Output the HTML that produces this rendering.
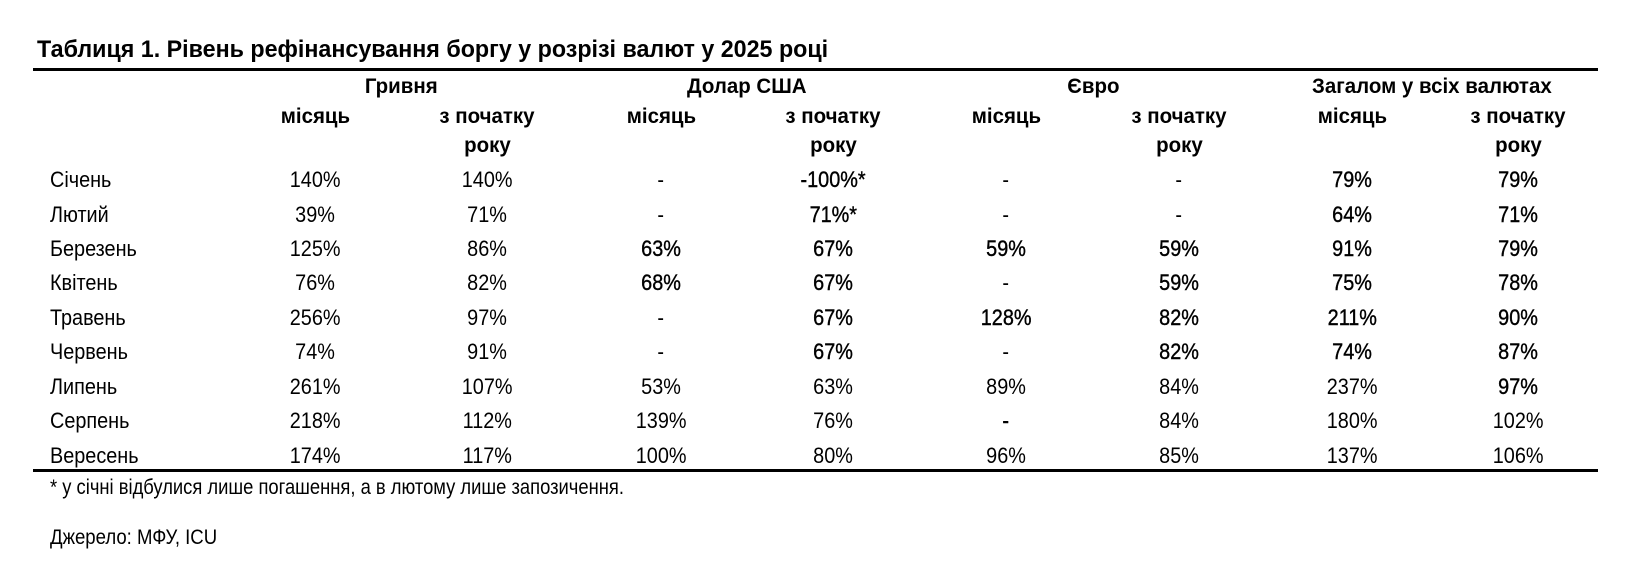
<!DOCTYPE html>
<html><head><meta charset="utf-8">
<style>
html,body{margin:0;padding:0;background:#fff;}
body{width:1643px;height:565px;position:relative;overflow:hidden;font-family:"Liberation Sans","DejaVu Sans",sans-serif;color:#000;--kt:1;--kh:0.97;--kd:0.9;--kf:0.86;--ks:0.85;}
.a{position:absolute;white-space:nowrap;line-height:1;}
.t{font-size:24px;font-weight:bold;transform:scaleX(var(--kt));transform-origin:0 0;}
.h{font-size:21.5px;font-weight:bold;}
.d{font-size:22px;}
.f{font-size:21px;transform:scaleX(var(--kf));transform-origin:0 0;}
.src{font-size:21px;transform:scaleX(var(--ks));transform-origin:0 0;}
.lab{transform:scaleX(var(--kd));transform-origin:0 0;}
.c{width:300px;margin-left:-150px;text-align:center;}
.c span{display:inline-block;line-height:1;transform-origin:50% 50%;}
.h.c span{transform:scaleX(var(--kh));}
.d.c span{transform:scaleX(var(--kd));}
.b span{-webkit-text-stroke:0.4px #000;}
.rule{position:absolute;left:33px;width:1565px;height:3px;background:#000;}
</style>
</head><body>

<div class="a t" id="rt" style="left:37px;top:38px;">Таблиця 1. Рівень рефінансування боргу у розрізі валют у 2025 році</div>
<div class="rule" style="top:68px;"></div>

<!-- group headers -->
<div class="a h c" style="left:401px;top:76px;"><span>Гривня</span></div>
<div class="a h c" style="left:747px;top:76px;"><span>Долар США</span></div>
<div class="a h c" style="left:1093px;top:76px;"><span>Євро</span></div>
<div class="a h c" style="left:1432px;top:76px;"><span id="rh">Загалом у всіх валютах</span></div>

<!-- sub headers -->
<div class="a h c" style="left:315px;top:106px;"><span>місяць</span></div>
<div class="a h c" style="left:487px;top:106px;"><span>з початку</span></div>
<div class="a h c" style="left:487px;top:135px;"><span>року</span></div>
<div class="a h c" style="left:661px;top:106px;"><span>місяць</span></div>
<div class="a h c" style="left:833px;top:106px;"><span>з початку</span></div>
<div class="a h c" style="left:833px;top:135px;"><span>року</span></div>
<div class="a h c" style="left:1006px;top:106px;"><span>місяць</span></div>
<div class="a h c" style="left:1179px;top:106px;"><span>з початку</span></div>
<div class="a h c" style="left:1179px;top:135px;"><span>року</span></div>
<div class="a h c" style="left:1352px;top:106px;"><span>місяць</span></div>
<div class="a h c" style="left:1518px;top:106px;"><span>з початку</span></div>
<div class="a h c" style="left:1518px;top:135px;"><span>року</span></div>

<!-- Row 1 -->
<div class="a d lab" style="left:50px;top:169px;">Січень</div>
<div class="a d c" style="left:315px;top:169px;"><span id="rd">140%</span></div>
<div class="a d c" style="left:487px;top:169px;"><span>140%</span></div>
<div class="a d c" style="left:661px;top:169px;"><span>-</span></div>
<div class="a d c b" style="left:833px;top:169px;"><span>-100%*</span></div>
<div class="a d c" style="left:1006px;top:169px;"><span>-</span></div>
<div class="a d c" style="left:1179px;top:169px;"><span>-</span></div>
<div class="a d c b" style="left:1352px;top:169px;"><span>79%</span></div>
<div class="a d c b" style="left:1518px;top:169px;"><span>79%</span></div>

<!-- Row 2 -->
<div class="a d lab" style="left:50px;top:203.5px;">Лютий</div>
<div class="a d c" style="left:315px;top:203.5px;"><span>39%</span></div>
<div class="a d c" style="left:487px;top:203.5px;"><span>71%</span></div>
<div class="a d c" style="left:661px;top:203.5px;"><span>-</span></div>
<div class="a d c b" style="left:833px;top:203.5px;"><span>71%*</span></div>
<div class="a d c" style="left:1006px;top:203.5px;"><span>-</span></div>
<div class="a d c" style="left:1179px;top:203.5px;"><span>-</span></div>
<div class="a d c b" style="left:1352px;top:203.5px;"><span>64%</span></div>
<div class="a d c b" style="left:1518px;top:203.5px;"><span>71%</span></div>

<!-- Row 3 -->
<div class="a d lab" style="left:50px;top:238px;">Березень</div>
<div class="a d c" style="left:315px;top:238px;"><span>125%</span></div>
<div class="a d c" style="left:487px;top:238px;"><span>86%</span></div>
<div class="a d c b" style="left:661px;top:238px;"><span>63%</span></div>
<div class="a d c b" style="left:833px;top:238px;"><span>67%</span></div>
<div class="a d c b" style="left:1006px;top:238px;"><span>59%</span></div>
<div class="a d c b" style="left:1179px;top:238px;"><span>59%</span></div>
<div class="a d c b" style="left:1352px;top:238px;"><span>91%</span></div>
<div class="a d c b" style="left:1518px;top:238px;"><span>79%</span></div>

<!-- Row 4 -->
<div class="a d lab" style="left:50px;top:272.4px;">Квітень</div>
<div class="a d c" style="left:315px;top:272.4px;"><span>76%</span></div>
<div class="a d c" style="left:487px;top:272.4px;"><span>82%</span></div>
<div class="a d c b" style="left:661px;top:272.4px;"><span>68%</span></div>
<div class="a d c b" style="left:833px;top:272.4px;"><span>67%</span></div>
<div class="a d c" style="left:1006px;top:272.4px;"><span>-</span></div>
<div class="a d c b" style="left:1179px;top:272.4px;"><span>59%</span></div>
<div class="a d c b" style="left:1352px;top:272.4px;"><span>75%</span></div>
<div class="a d c b" style="left:1518px;top:272.4px;"><span>78%</span></div>

<!-- Row 5 -->
<div class="a d lab" style="left:50px;top:306.9px;">Травень</div>
<div class="a d c" style="left:315px;top:306.9px;"><span>256%</span></div>
<div class="a d c" style="left:487px;top:306.9px;"><span>97%</span></div>
<div class="a d c" style="left:661px;top:306.9px;"><span>-</span></div>
<div class="a d c b" style="left:833px;top:306.9px;"><span>67%</span></div>
<div class="a d c b" style="left:1006px;top:306.9px;"><span>128%</span></div>
<div class="a d c b" style="left:1179px;top:306.9px;"><span>82%</span></div>
<div class="a d c b" style="left:1352px;top:306.9px;"><span>211%</span></div>
<div class="a d c b" style="left:1518px;top:306.9px;"><span>90%</span></div>

<!-- Row 6 -->
<div class="a d lab" style="left:50px;top:341.3px;">Червень</div>
<div class="a d c" style="left:315px;top:341.3px;"><span>74%</span></div>
<div class="a d c" style="left:487px;top:341.3px;"><span>91%</span></div>
<div class="a d c" style="left:661px;top:341.3px;"><span>-</span></div>
<div class="a d c b" style="left:833px;top:341.3px;"><span>67%</span></div>
<div class="a d c" style="left:1006px;top:341.3px;"><span>-</span></div>
<div class="a d c b" style="left:1179px;top:341.3px;"><span>82%</span></div>
<div class="a d c b" style="left:1352px;top:341.3px;"><span>74%</span></div>
<div class="a d c b" style="left:1518px;top:341.3px;"><span>87%</span></div>

<!-- Row 7 -->
<div class="a d lab" style="left:50px;top:375.8px;">Липень</div>
<div class="a d c" style="left:315px;top:375.8px;"><span>261%</span></div>
<div class="a d c" style="left:487px;top:375.8px;"><span>107%</span></div>
<div class="a d c" style="left:661px;top:375.8px;"><span>53%</span></div>
<div class="a d c" style="left:833px;top:375.8px;"><span>63%</span></div>
<div class="a d c" style="left:1006px;top:375.8px;"><span>89%</span></div>
<div class="a d c" style="left:1179px;top:375.8px;"><span>84%</span></div>
<div class="a d c" style="left:1352px;top:375.8px;"><span>237%</span></div>
<div class="a d c b" style="left:1518px;top:375.8px;"><span>97%</span></div>

<!-- Row 8 -->
<div class="a d lab" style="left:50px;top:410.2px;">Серпень</div>
<div class="a d c" style="left:315px;top:410.2px;"><span>218%</span></div>
<div class="a d c" style="left:487px;top:410.2px;"><span>112%</span></div>
<div class="a d c" style="left:661px;top:410.2px;"><span>139%</span></div>
<div class="a d c" style="left:833px;top:410.2px;"><span>76%</span></div>
<div class="a d c b" style="left:1006px;top:410.2px;"><span>-</span></div>
<div class="a d c" style="left:1179px;top:410.2px;"><span>84%</span></div>
<div class="a d c" style="left:1352px;top:410.2px;"><span>180%</span></div>
<div class="a d c" style="left:1518px;top:410.2px;"><span>102%</span></div>

<!-- Row 9 -->
<div class="a d lab" style="left:50px;top:444.7px;">Вересень</div>
<div class="a d c" style="left:315px;top:444.7px;"><span>174%</span></div>
<div class="a d c" style="left:487px;top:444.7px;"><span>117%</span></div>
<div class="a d c" style="left:661px;top:444.7px;"><span>100%</span></div>
<div class="a d c" style="left:833px;top:444.7px;"><span>80%</span></div>
<div class="a d c" style="left:1006px;top:444.7px;"><span>96%</span></div>
<div class="a d c" style="left:1179px;top:444.7px;"><span>85%</span></div>
<div class="a d c" style="left:1352px;top:444.7px;"><span>137%</span></div>
<div class="a d c" style="left:1518px;top:444.7px;"><span>106%</span></div>

<div class="rule" style="top:469px;"></div>

<div class="a f" id="rf" style="left:50px;top:477px;">* у січні відбулися лише погашення, а в лютому лише запозичення.</div>
<div class="a src" id="rs" style="left:50px;top:527px;">Джерело: МФУ, ICU</div>

<script>
(function(){
  function k(id,target){var e=document.getElementById(id);if(!e)return null;var w=e.offsetWidth;return w?target/w:null;}
  var s=document.body.style;
  var v;
  v=k('rt',791); if(v) s.setProperty('--kt',v);
  v=k('rh',240); if(v) s.setProperty('--kh',v);
  v=k('rd',50.5); if(v) s.setProperty('--kd',v);
  v=k('rf',574); if(v) s.setProperty('--kf',v);
  v=k('rs',167); if(v) s.setProperty('--ks',v);
})();
</script>
</body></html>
